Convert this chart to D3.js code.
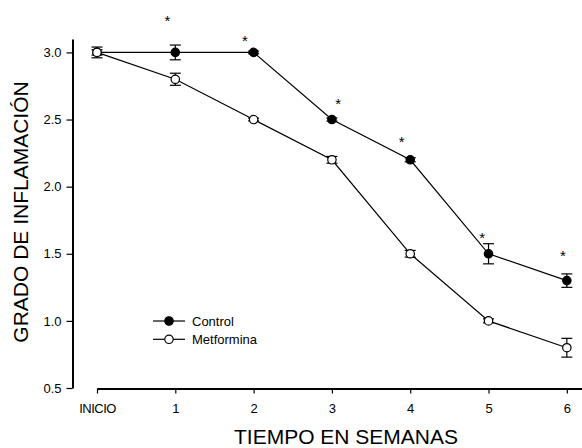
<!DOCTYPE html>
<html>
<head>
<meta charset="utf-8">
<script src="https://cdn.jsdelivr.net/npm/d3@7"></script>
<style>
  body { margin: 0; background: #fff; }
  svg { display: block; }
  text { font-family: "Liberation Sans", Arial, sans-serif; fill: #000; }
</style>
</head>
<body>
<div id="chart"></div>
<script>
// weeks (0 = INICIO)
const weeks = [0, 1, 2, 3, 4, 5, 6];
const weekLabels = ["INICIO", "1", "2", "3", "4", "5", "6"];
const controlMean = [3.0, 3.0, 3.0, 2.5, 2.2, 1.5, 1.3];
const controlErr = [0.02, 0.055, 0.01, 0.012, 0.015, 0.075, 0.05];
const metforminaMean = [3.0, 2.8, 2.5, 2.2, 1.5, 1.0, 0.8];
const metforminaErr = [0.04, 0.045, 0.01, 0.025, 0.025, 0.015, 0.07];
// significance marks (week, value where the * sits)
const starWeek = [0.9, 1.89, 3.08, 3.89, 4.92, 5.95];
const starValue = [3.264, 3.115, 2.646, 2.36, 1.647, 1.513];
const yTicks = [0.5, 1.0, 1.5, 2.0, 2.5, 3.0];

const width = 582, height = 448;
const svg = d3.select("#chart").append("svg")
  .attr("width", width)
  .attr("height", height);

const x = d3.scaleLinear().domain([0, 6.2]).range([97, 582.5]);
const y = d3.scaleLinear().domain([0.5, 3.1]).range([388, 39]);

// y axis
const yAxis = svg.append("g")
  .attr("transform", "translate(72.5,0)")
  .call(d3.axisLeft(y).tickValues(yTicks).tickFormat(d3.format(".1f"))
    .tickSize(6).tickSizeOuter(0).tickPadding(5));
yAxis.select(".domain").attr("stroke-width", 2);
yAxis.selectAll(".tick line").attr("stroke-width", 1.2);
yAxis.selectAll(".tick text").style("font-size", "13px").attr("font-family", null);

// x axis
const xAxis = svg.append("g")
  .attr("transform", "translate(0,388.5)")
  .call(d3.axisBottom(x).tickValues(weeks).tickFormat((d, i) => weekLabels[i])
    .tickSize(5).tickSizeOuter(0).tickPadding(10));
xAxis.select(".domain").attr("stroke-width", 2);
xAxis.selectAll(".tick line").attr("stroke-width", 1.2);
xAxis.selectAll(".tick text").style("font-size", "13px").attr("font-family", null)
  .style("letter-spacing", d => d === 0 ? "-0.5px" : null);

// axis titles
svg.append("text")
  .attr("x", 346).attr("y", 444)
  .attr("text-anchor", "middle")
  .style("font-size", "21px")
  .text("TIEMPO EN SEMANAS");

svg.append("text")
  .attr("transform", "translate(28,212) rotate(-90)")
  .attr("text-anchor", "middle")
  .style("font-size", "21px")
  .text("GRADO DE INFLAMACIÓN");

const series = [
  { name: "Control", mean: controlMean, err: controlErr, fill: "#000" },
  { name: "Metformina", mean: metforminaMean, err: metforminaErr, fill: "#fff" }
];

const line = d3.line().x(d => x(d[0])).y(d => y(d[1]));

series.forEach(s => {
  const pts = weeks.map((w, i) => [w, s.mean[i], s.err[i]]);
  const g = svg.append("g");
  g.append("path")
    .attr("d", line(pts))
    .attr("fill", "none")
    .attr("stroke", "#000")
    .attr("stroke-width", 1.2);

  const eb = g.selectAll(".err").data(pts).enter().append("g").attr("class", "err");
  eb.append("line")
    .attr("x1", d => x(d[0])).attr("x2", d => x(d[0]))
    .attr("y1", d => y(d[1] - d[2])).attr("y2", d => y(d[1] + d[2]))
    .attr("stroke", "#000").attr("stroke-width", 1.2);
  [-1, 1].forEach(sign => {
    eb.append("line")
      .attr("x1", d => x(d[0]) - 5.5).attr("x2", d => x(d[0]) + 5.5)
      .attr("y1", d => y(d[1] + sign * d[2])).attr("y2", d => y(d[1] + sign * d[2]))
      .attr("stroke", "#000").attr("stroke-width", 1.2);
  });

  g.selectAll("circle").data(pts).enter().append("circle")
    .attr("cx", d => x(d[0]))
    .attr("cy", d => y(d[1]))
    .attr("r", 4.2)
    .attr("fill", s.fill)
    .attr("stroke", "#000")
    .attr("stroke-width", 1.2);
});

// asterisks
svg.selectAll(".star").data(starWeek).enter().append("text")
  .attr("class", "star")
  .attr("x", d => x(d))
  .attr("y", (d, i) => y(starValue[i]))
  .attr("dy", "0.58em")
  .attr("text-anchor", "middle")
  .style("font-size", "15px")
  .text("*");

// legend
const legend = svg.append("g");
series.forEach((s, i) => {
  const ly = 321 + i * 18.3;
  legend.append("line")
    .attr("x1", 153).attr("x2", 185)
    .attr("y1", ly).attr("y2", ly)
    .attr("stroke", "#000").attr("stroke-width", 1.2);
  legend.append("circle")
    .attr("cx", 169).attr("cy", ly).attr("r", 4.2)
    .attr("fill", s.fill).attr("stroke", "#000").attr("stroke-width", 1.2);
  legend.append("text")
    .attr("x", 192).attr("y", ly)
    .attr("dy", "0.36em")
    .style("font-size", "13px")
    .text(s.name);
});
</script>
</body>
</html>
